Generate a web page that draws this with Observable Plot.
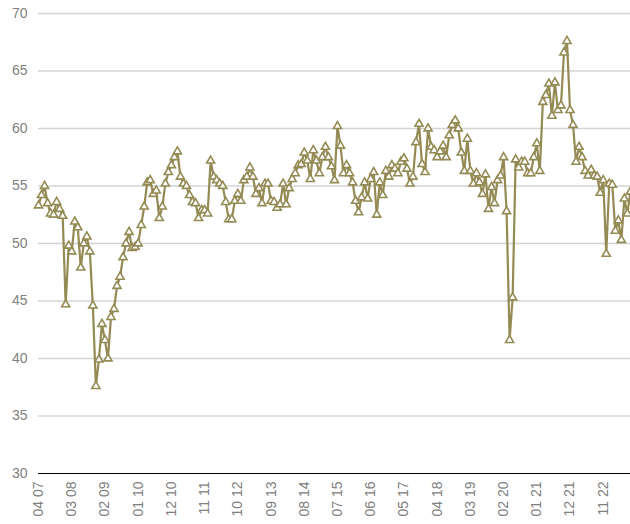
<!DOCTYPE html>
<html>
<head>
<meta charset="utf-8">
<script src="https://cdn.jsdelivr.net/npm/d3@7"></script>
<script src="https://cdn.jsdelivr.net/npm/@observablehq/plot@0.6"></script>
<style>
  html, body { margin: 0; padding: 0; background: #fff; overflow: hidden; }
  #chart svg { display: block; }
</style>
</head>
<body>
<div id="chart"></div>
<script>
// Monthly index values, April 2007 onward (one value per month)
const values = [
  53.3, 54.2, 55.0, 53.5, 52.6, 52.5, 53.6, 53.0, 52.4,           // Apr-Dec 2007
  44.7, 49.8, 49.3, 51.9, 51.4, 47.9, 50.0, 50.6, 49.3, 44.6, 37.6, 39.9, // 2008
  43.0, 41.6, 40.0, 43.6, 44.3, 46.3, 47.1, 48.8, 50.0, 51.0, 49.6, 49.7, // 2009
  50.0, 51.6, 53.2, 55.3, 55.5, 54.3, 54.6, 52.2, 53.2, 55.2, 56.2, 56.8, // 2010
  57.5, 58.0, 55.8, 55.2, 55.0, 54.2, 53.6, 53.5, 52.2, 52.9, 52.9, 52.6, // 2011
  57.2, 55.8, 55.5, 55.2, 55.0, 53.6, 52.1, 52.1, 53.7, 54.3, 53.7, 55.5, // 2012
  55.8, 56.6, 55.8, 54.3, 54.8, 53.5, 55.2, 55.2, 53.7, 53.6, 53.1, 53.4, // 2013
  55.2, 53.4, 54.8, 55.6, 56.1, 56.8, 56.9, 57.9, 57.2, 55.6, 58.1, 57.2, // 2014
  56.1, 57.5, 58.4, 57.5, 56.7, 55.5, 60.2, 58.5, 56.1, 56.8, 56.1, 55.3, // 2015
  53.7, 52.7, 54.0, 55.3, 53.9, 55.6, 56.2, 52.5, 55.3, 54.2, 56.3, 55.8, // 2016
  56.8, 56.5, 56.1, 57.1, 57.4, 56.5, 55.2, 55.8, 58.8, 60.4, 56.9, 56.2, // 2017
  60.0, 58.4, 58.1, 57.5, 58.0, 58.5, 57.5, 59.4, 60.3, 60.7, 60.0, 57.9, // 2018
  56.3, 59.1, 56.3, 55.2, 56.1, 55.3, 54.3, 56.0, 53.0, 54.9, 53.5, 55.5, // 2019
  55.9, 57.5, 52.8, 41.6, 45.3, 57.3, 56.6, 57.1, 57.1, 56.1, 56.1, 57.5, // 2020
  58.7, 56.3, 62.3, 62.9, 63.9, 61.1, 64.0, 61.6, 62.0, 66.6, 67.6, 61.6, // 2021
  60.3, 57.1, 58.4, 57.5, 56.3, 55.9, 56.4, 55.9, 55.8, 54.4, 55.5, 49.1, // 2022
  55.2, 55.1, 51.1, 52.0, 50.3, 53.9, 52.6, 54.5                          // 2023
];

// Category-axis labels (MM YY), one every 11 months starting at the first month
const tickLabels = ["04 07", "03 08", "02 09", "01 10", "12 10", "11 11", "10 12", "09 13", "08 14",
                    "07 15", "06 16", "05 17", "04 18", "03 19", "02 20", "01 21", "12 21", "11 22"];
const tickStep = 11;
const yTicks = [30, 35, 40, 45, 50, 55, 60, 65, 70];

const data = values.map((v, i) => ({i, v}));
const tickIdx = tickLabels.map((_, k) => k * tickStep);

const color = "#948a54";

const chart = Plot.plot({
  width: 630,
  height: 524,
  marginLeft: 38,
  marginRight: 0,
  marginTop: 13,
  marginBottom: 51,
  style: {fontFamily: "'Liberation Sans', Arial, sans-serif", fontSize: "14px", color: "#808080", background: "#fff"},
  x: {type: "linear", domain: [0, 196.03]},
  y: {domain: [30, 70]},
  marks: [
    Plot.ruleY(yTicks.slice(1), {stroke: "#d4d4d4", strokeWidth: 1.3}),
    Plot.axisY({ticks: yTicks, tickSize: 0, tickPadding: 11, label: null}),
    Plot.axisX({ticks: tickIdx, tickFormat: (d) => tickLabels[Math.round(d / tickStep)],
      tickRotate: -90, tickSize: 0, tickPadding: 8, label: null}),
    Plot.line(data, {x: "i", y: "v", stroke: color, strokeWidth: 2.2}),
    Plot.dot(data, {x: "i", y: "v", symbol: "triangle", r: 3, fill: "white", stroke: color, strokeWidth: 1.6}),
    Plot.ruleY([30], {stroke: "#000", strokeWidth: 1})
  ]
});
document.getElementById("chart").appendChild(chart);
</script>
</body>
</html>
